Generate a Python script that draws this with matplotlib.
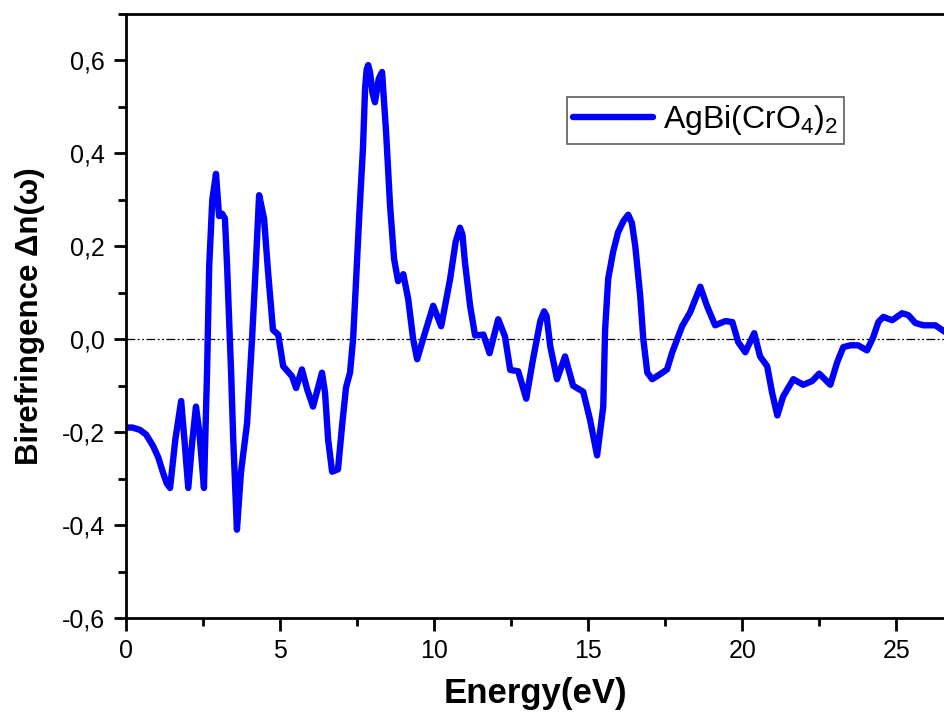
import matplotlib
matplotlib.use('Agg')
import matplotlib.pyplot as plt
from matplotlib.ticker import MultipleLocator, FuncFormatter

plt.rcParams['font.family'] = ['Liberation Sans', 'DejaVu Sans']
plt.rcParams['mathtext.fontset'] = 'custom'
plt.rcParams['mathtext.rm'] = 'Liberation Sans'

# energy (eV) and birefringence values
energy = [0.0, 0.2, 0.45, 0.65, 0.88, 1.05, 1.2, 1.32, 1.43, 1.6, 1.79, 1.9, 2.02, 2.15, 2.27, 2.38,
          2.53, 2.63, 2.7, 2.8, 2.92, 3.02, 3.12, 3.21, 3.28, 3.41, 3.48, 3.6, 3.73, 3.93, 4.09,
          4.19, 4.32, 4.48, 4.61, 4.77, 4.94, 5.1, 5.39, 5.52, 5.71, 5.88, 6.07, 6.36, 6.46, 6.56,
          6.69, 6.88, 7.01, 7.14, 7.27, 7.37, 7.47, 7.57, 7.69, 7.76, 7.81, 7.86, 7.92, 8.0, 8.08,
          8.2, 8.31, 8.44, 8.57, 8.7, 8.83, 9.0, 9.16, 9.32, 9.45, 9.64, 9.97, 10.23, 10.52, 10.7,
          10.84, 10.92, 11.0, 11.17, 11.33, 11.6, 11.8, 12.08, 12.3, 12.47, 12.73, 12.99, 13.21,
          13.45, 13.57, 13.65, 13.77, 13.99, 14.25, 14.51, 14.84, 15.06, 15.29, 15.49, 15.55, 15.65,
          15.81, 15.97, 16.15, 16.3, 16.42, 16.53, 16.69, 16.79, 16.92, 17.08, 17.34, 17.56, 17.73,
          17.89, 18.05, 18.31, 18.64, 18.86, 19.12, 19.45, 19.68, 19.87, 20.1, 20.39, 20.58, 20.81,
          20.97, 21.14, 21.33, 21.66, 21.98, 22.27, 22.5, 22.86, 23.08, 23.28, 23.51, 23.76, 24.05,
          24.25, 24.42, 24.58, 24.87, 25.19, 25.39, 25.62, 25.88, 26.27, 26.6]
dn = [-0.19, -0.19, -0.195, -0.205, -0.23, -0.255, -0.287, -0.31, -0.32, -0.216, -0.133, -0.22,
      -0.32, -0.22, -0.145, -0.2, -0.32, -0.07, 0.158, 0.3, 0.356, 0.265, 0.27, 0.26, 0.158, -0.07,
      -0.216, -0.41, -0.287, -0.18, 0.0, 0.13, 0.31, 0.26, 0.145, 0.02, 0.01, -0.058, -0.08, -0.105,
      -0.065, -0.108, -0.145, -0.072, -0.115, -0.216, -0.285, -0.28, -0.188, -0.104, -0.072, 0.0,
      0.13, 0.266, 0.41, 0.54, 0.58, 0.59, 0.575, 0.53, 0.51, 0.56, 0.575, 0.447, 0.288, 0.173,
      0.125, 0.14, 0.086, 0.0, -0.043, 0.0, 0.072, 0.028, 0.13, 0.21, 0.24, 0.225, 0.166, 0.071,
      0.008, 0.01, -0.03, 0.043, 0.006, -0.066, -0.069, -0.128, -0.043, 0.04, 0.06, 0.05, -0.015,
      -0.086, -0.037, -0.1, -0.113, -0.173, -0.25, -0.145, 0.02, 0.13, 0.188, 0.23, 0.255, 0.268,
      0.25, 0.2, 0.093, 0.0, -0.072, -0.086, -0.075, -0.065, -0.028, 0.0, 0.028, 0.058, 0.113,
      0.071, 0.03, 0.039, 0.037, -0.006, -0.028, 0.013, -0.037, -0.058, -0.115, -0.164, -0.123,
      -0.086, -0.098, -0.09, -0.074, -0.098, -0.05, -0.017, -0.013, -0.013, -0.024, 0.004, 0.037,
      0.048, 0.041, 0.056, 0.052, 0.035, 0.03, 0.03, 0.015]

fig = plt.figure(figsize=(9.44, 7.13), dpi=100)
ax = fig.add_axes([0.1335, 0.1332, 0.8665, 0.8472])

ax.axhline(0, color='black', lw=0.9, linestyle=(0, (7, 2, 1.5, 2, 1.5, 2)), zorder=1)
ax.plot(energy, dn, color='#0000ff', lw=4.6, solid_joinstyle='round', solid_capstyle='round',
        label=r'AgBi(CrO$_4$)$_2$', zorder=2)

ax.set_xlim(0, 26.55)
ax.set_ylim(-0.6, 0.7)
ax.xaxis.set_major_locator(MultipleLocator(5))
ax.xaxis.set_minor_locator(MultipleLocator(2.5))
ax.yaxis.set_major_locator(MultipleLocator(0.2))
ax.yaxis.set_minor_locator(MultipleLocator(0.1))
ax.yaxis.set_major_formatter(FuncFormatter(lambda v, p: '{:.1f}'.format(v).replace('.', ',')))

for s in ['left', 'bottom', 'top']:
    ax.spines[s].set_linewidth(2)
ax.spines['right'].set_visible(False)
ax.tick_params(which='both', direction='out', width=2, labelsize=18, top=False, right=False)
ax.tick_params(which='major', length=9, pad=6)
ax.tick_params(which='minor', length=6)

ax.set_xlabel('Energy(eV)', fontsize=25, fontweight='bold', labelpad=10)
ax.set_ylabel('Birefringence Δn(ω)', fontsize=22.5, fontweight='bold', labelpad=12)

leg = ax.legend(loc='upper left', bbox_to_anchor=(567 / 944, 1 - 97 / 713),
                bbox_transform=fig.transFigure, borderaxespad=0, fontsize=23,
                fancybox=False, edgecolor='#333333', handlelength=2.5, handletextpad=0.3,
                borderpad=0.2)
leg.get_frame().set_linewidth(1.2)

fig.savefig('out.png', dpi=100)
